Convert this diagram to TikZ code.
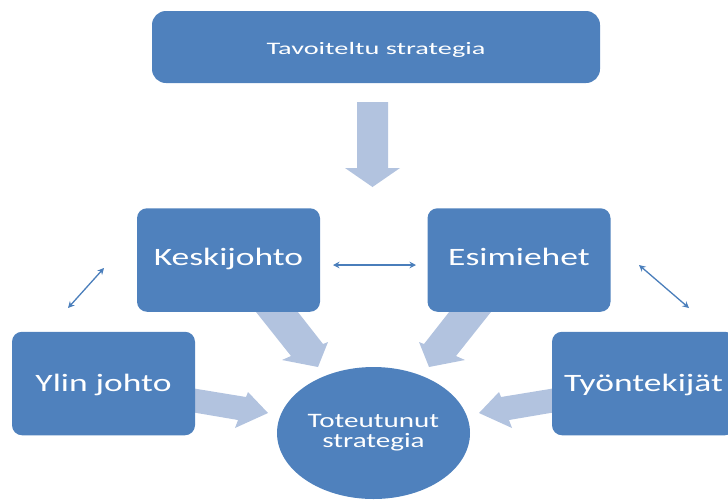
\documentclass[tikz,border=0pt]{standalone}
\usepackage{fontspec}
\setmainfont{Carlito}
\usetikzlibrary{arrows.meta,shapes.geometric}
\definecolor{boxblue}{HTML}{4F81BD}
\definecolor{fatc}{HTML}{B2C3DF}
\definecolor{thinc}{HTML}{4A7EBB}
\begin{document}
\begin{tikzpicture}[x=1pt,y=-1pt,
  box/.style={rectangle, rounded corners=10pt, fill=boxblue, text=white, inner sep=0pt,
    minimum width=183pt, minimum height=103.5pt, font=\fontsize{25}{30}\selectfont,
    text height=16.1pt, text depth=0pt},
  fatarrow/.style={fill=fatc},
  thinarrow/.style={draw=thinc, line width=1.3pt,
    {Stealth[length=6.5pt,width=6.5pt]}-{Stealth[length=6.5pt,width=6.5pt]}}]
\useasboundingbox (0,0) rectangle (728,499);
\clip (0,0) rectangle (728,499);
% broad arrows
\fill[fatarrow] (357,102) -- (388,102) -- (388,168) -- (400,168) -- (372.5,187) -- (345,168) -- (357,168) -- cycle;
\fill[fatarrow] (246.5,300) -- (288.5,300) -- (323,344) -- (328,342) -- (318,367) -- (282,360) -- (291,356) -- cycle;
\fill[fatarrow] (500.5,300) -- (458.5,300) -- (424,344) -- (419,342) -- (429,367) -- (465,360) -- (456,356) -- cycle;
\fill[fatarrow] (185,387) -- (246,397) -- (248,392) -- (268,413) -- (235,428) -- (238,420) -- (185,411) -- cycle;
\fill[fatarrow] (562,387) -- (501,397) -- (499,392) -- (479,413) -- (512,428) -- (509,420) -- (562,411) -- cycle;
% nodes
\node[box, rounded corners=14pt, minimum width=448pt, minimum height=72pt,
  font=\fontsize{17.5}{21}\selectfont, text height=14pt, text depth=0pt]
  (goal) at (376,47) {\scalebox{1.62}[1]{Tavoiteltu strategia}};
\node[box, text depth=5.6pt] (kesk) at (228.5,260) {\scalebox{1.42}[1]{Keskijohto}};
\node[box, text depth=5.6pt] (esim) at (519,260) {\scalebox{1.42}[1]{Esimiehet}};
\node[box] (ylin) at (103.5,383.5) {\scalebox{1.42}[1]{Ylin johto}};
\node[box] (tyon) at (643.5,383.5) {\scalebox{1.42}[1]{Työntekijät}};
\node[ellipse, fill=boxblue, text=white, minimum width=193pt, minimum height=132pt,
  inner sep=0pt, align=center, font=\fontsize{20.5}{20}\selectfont]
  (real) at (373.5,433) {\scalebox{1.42}[1]{Toteutunut}\\\scalebox{1.42}[1]{strategia}};
% thin double arrows
\coordinate (a1) at (333,265);
\coordinate (a2) at (416,265);
\coordinate (b1) at (68,308);
\coordinate (b2) at (104,268);
\coordinate (c1) at (639,265);
\coordinate (c2) at (689,308);
\draw[thinarrow] (a1) -- (a2);
\draw[thinarrow] (b1) -- (b2);
\draw[thinarrow] (c1) -- (c2);
\end{tikzpicture}
\end{document}
